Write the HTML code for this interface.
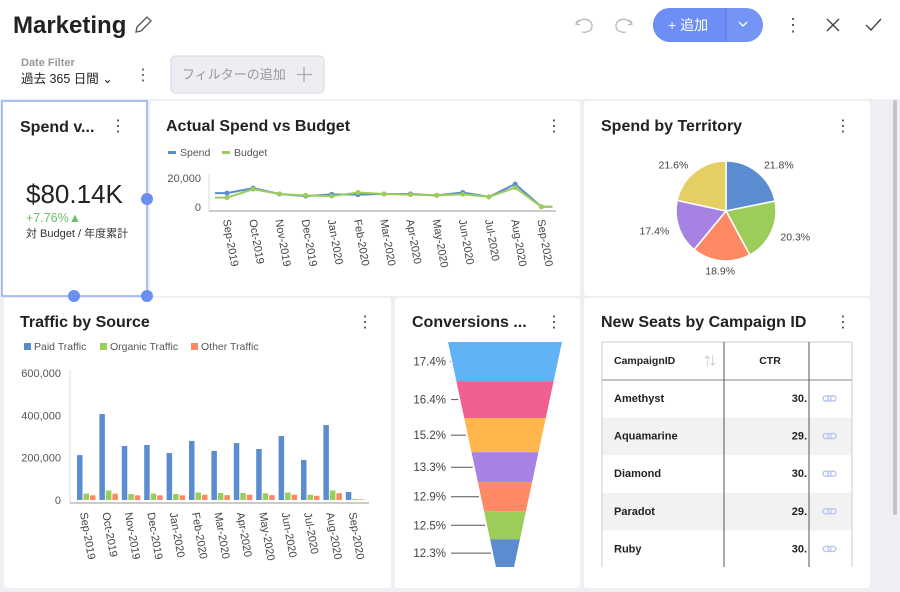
<!DOCTYPE html>
<html><head><meta charset="utf-8">
<style>
html,body{margin:0;padding:0;width:900px;height:592px;overflow:hidden;background:#eeeef3}
svg{display:block;font-family:"Liberation Sans","Noto Sans CJK JP",sans-serif}
</style></head>
<body>
<svg id="s" width="900" height="592" viewBox="0 0 900 592">
  <rect x="0" y="0" width="900" height="99" fill="#fff"/>
  <text x="13" y="33" font-size="24" font-weight="bold" fill="#222">Marketing</text>
  <g stroke="#555" stroke-width="1.3" fill="none"><path d="M136 32 L137 27 L147 17 L151 21 L141 31 Z"/></g>
  <g stroke="#bbb" stroke-width="1.4" fill="none"><path d="M578 20 L576 24 L580 25 M576 24 C580 17 592 18 592 26 C592 31 586 33 582 32"/></g>
  <g stroke="#bbb" stroke-width="1.4" fill="none"><path d="M630 20 L632 24 L628 25 M632 24 C628 17 616 18 616 26 C616 31 622 33 626 32"/></g>
  <g>
    <rect x="653" y="8" width="110" height="34" rx="17" fill="#7595f6"/>
    <path d="M726 8 H670 A17 17 0 0 0 670 42 H726 Z" fill="#6c8ef5"/>
    <line x1="726" y1="8" x2="726" y2="42" stroke="#5a78d8" stroke-width="1"/>
    <text x="668" y="30" font-size="14" fill="#fff">+ 追加</text>
    <path d="M739 22 L743 26 L747 22" stroke="#fff" stroke-width="1.3" fill="none"/>
  </g>
  <text x="793" y="31" font-size="18" fill="#555" text-anchor="middle">⋮</text>
  <g stroke="#444" stroke-width="1.4"><line x1="827" y1="19" x2="839" y2="31"/><line x1="839" y1="19" x2="827" y2="31"/></g>
  <g stroke="#444" stroke-width="1.4" fill="none"><path d="M866 25 L871 30 L881 19"/></g>
  <text x="21" y="66" font-size="11" font-weight="bold" fill="#999">Date Filter</text>
  <text x="21" y="83" font-size="12.5" fill="#222">過去 365 日間 ⌄</text>
  <text x="143" y="80" font-size="16" fill="#555" text-anchor="middle">⋮</text>
  <g>
    <rect x="171" y="56" width="153" height="37" rx="4" fill="#eceef3" stroke="#d8dae0"/>
    <text x="182" y="79" font-size="13" fill="#999">フィルターの追加</text>
    <path d="M304 67 V82 M297 74.5 H312" stroke="#aaa" stroke-width="1.3"/>
  </g>
  <rect x="893" y="100" width="4" height="415" rx="2" fill="#c4c4c8"/>

  <rect x="2" y="101" width="145" height="195" fill="#fff" stroke="#7b98f0" stroke-width="1.2"/>
  <rect x="150" y="101" width="430" height="195" rx="3" fill="#fff"/>
  <rect x="584" y="101" width="286" height="195" rx="3" fill="#fff"/>
  <rect x="4" y="298" width="387" height="290" rx="3" fill="#fff"/>
  <rect x="395" y="298" width="185" height="290" rx="3" fill="#fff"/>
  <rect x="584" y="298" width="286" height="290" rx="3" fill="#fff"/>

  <text x="20" y="132" font-size="16" font-weight="bold" fill="#222">Spend v...</text>
  <text x="118" y="131" font-size="16" fill="#444" text-anchor="middle">⋮</text>
  <text x="26" y="203" font-size="26" fill="#222">$80.14K</text>
  <text x="26" y="222" font-size="12.5" fill="#6cbf6c">+7.76%▲</text>
  <text x="26" y="237" font-size="11" fill="#333">対 Budget / 年度累計</text>
  <circle cx="147" cy="199" r="6" fill="#6b8ff0"/>
  <circle cx="74" cy="296" r="6" fill="#6b8ff0"/>
  <circle cx="147" cy="296" r="6" fill="#6b8ff0"/>

  <text x="166" y="131" font-size="16" font-weight="bold" fill="#222">Actual Spend vs Budget</text>
  <text x="554" y="131" font-size="16" fill="#444" text-anchor="middle">⋮</text>
  <text x="601" y="131" font-size="16" font-weight="bold" fill="#222">Spend by Territory</text>
  <text x="843" y="131" font-size="16" fill="#444" text-anchor="middle">⋮</text>
  <text x="20" y="327" font-size="16" font-weight="bold" fill="#222">Traffic by Source</text>
  <text x="365" y="327" font-size="16" fill="#444" text-anchor="middle">⋮</text>
  <text x="412" y="327" font-size="16" font-weight="bold" fill="#222">Conversions ...</text>
  <text x="554" y="327" font-size="16" fill="#444" text-anchor="middle">⋮</text>
  <text x="601" y="327" font-size="16" font-weight="bold" fill="#222">New Seats by Campaign ID</text>
  <text x="843" y="327" font-size="16" fill="#444" text-anchor="middle">⋮</text>

  <g font-size="10.5" fill="#555">
    <rect x="168" y="151" width="8" height="3" fill="#5b8ccf"/>
    <text x="180" y="156">Spend</text>
    <rect x="222" y="151" width="8" height="3" fill="#9ccc5a"/>
    <text x="234" y="156">Budget</text>
    <rect x="24" y="343" width="7" height="7" fill="#5b8ccf"/>
    <text x="34" y="350">Paid Traffic</text>
    <rect x="100" y="343" width="7" height="7" fill="#9ccc5a"/>
    <text x="110" y="350">Organic Traffic</text>
    <rect x="191" y="343" width="7" height="7" fill="#fe8a65"/>
    <text x="201" y="350">Other Traffic</text>
  </g>
  <g id="charts"></g>
</svg>
<script>
const months=["Sep-2019","Oct-2019","Nov-2019","Dec-2019","Jan-2020","Feb-2020","Mar-2020","Apr-2020","May-2020","Jun-2020","Jul-2020","Aug-2020","Sep-2020"];
const spend=[9600,13000,9000,7500,8700,8500,9000,9000,8000,10000,7000,15800,200];
const budget=[6500,12300,9000,8000,7500,10000,9000,8500,8000,8800,7000,13400,200];
const lineTicks=[0,20000];
const lineTickLabels=["0","20,000"];
const paid=[212000,406000,255000,260000,222000,279000,232000,269000,241000,302000,189000,354000,38000];
const organic=[30000,45000,28000,30000,28000,35000,33000,33000,32000,35000,25000,45000,5000];
const other=[22000,30000,22000,22000,22000,25000,23000,25000,23000,25000,20000,32000,3000];
const barTicks=[0,200000,400000,600000];
const barTickLabels=["0","200,000","400,000","600,000"];
const pieValues=[21.8,20.3,18.9,17.4,21.6];
const pieLabels=["21.8%","20.3%","18.9%","17.4%","21.6%"];
const funnelValues=[17.4,16.4,15.2,13.3,12.9,12.5,12.3];
const funnelLabels=["17.4%","16.4%","15.2%","13.3%","12.9%","12.5%","12.3%"];
const campaigns=["Amethyst","Aquamarine","Diamond","Paradot","Ruby"];
const ctr=["30.","29.","30.","29.","30."];

const NS="http://www.w3.org/2000/svg";
const root=document.getElementById('charts');
function mk(tag,attrs,parent){const e=document.createElementNS(NS,tag);for(const k in attrs)e.setAttribute(k,attrs[k]);(parent||root).appendChild(e);return e;}
function txt(x,y,s,size,fill,anchor,parent){const t=mk('text',{x:x,y:y,'font-size':size,fill:fill||'#555','text-anchor':anchor||'start'},parent);t.textContent=s;return t;}

(function(){
  const g=mk('g',{});
  
  
  const x=i=>227+i*26.2, y=v=>207-v/20000*29;
  mk('line',{x1:209,y1:211,x2:556,y2:211,stroke:'#999'},g);
  mk('line',{x1:209,y1:174,x2:209,y2:211,stroke:'#ddd'},g);
  lineTicks.forEach((t,i)=>{const e=txt(201,y(t)+4,lineTickLabels[i],11,'#555','end',g);
    
    });
  [[spend,'#5b8ccf','spend'],[budget,'#9ccc5a','budget']].forEach(([d,c,n])=>{
    const p=mk('polyline',{points:(x(0)-12)+','+y(d[0])+' '+d.map((v,i)=>x(i)+','+y(v)).join(' ')+' '+(x(12)+11)+','+y(d[12]),fill:'none',stroke:c,'stroke-width':2},g);
    
    
    d.forEach((v,i)=>{const c2=mk('circle',{cx:x(i),cy:y(v),r:2.5,fill:c},g);
      
      });
  });
  months.forEach((m,i)=>{const t=txt(0,0,m,11,'#444','start',g);
    t.setAttribute('transform','translate('+(x(i)-4)+',220) rotate(80)');
    
    });
})();

(function(){
  const g=mk('g',{});
  
  
  const y=v=>500-v/600000*127, gx=i=>77+i*22.4;
  mk('line',{x1:70,y1:370,x2:70,y2:503,stroke:'#ddd'},g);
  mk('line',{x1:70,y1:503,x2:369,y2:503,stroke:'#999'},g);
  barTicks.forEach((t,i)=>{const e=txt(61,y(t)+4,barTickLabels[i],11,'#555','end',g);
    
    });
  [[paid,'#5b8ccf','paid'],[organic,'#9ccc5a','organic'],[other,'#fe8a65','other']].forEach(([d,c,n],s)=>{
    d.forEach((v,i)=>{const r=mk('rect',{x:gx(i)+s*6.5,y:y(v),width:5.5,height:500-y(v),fill:c},g);
      
      });
  });
  months.forEach((m,i)=>{const t=txt(0,0,m,11,'#444','start',g);
    t.setAttribute('transform','translate('+(gx(i)+3)+',513) rotate(80)');
    
    });
})();

(function(){
  const g=mk('g',{});
  
  
  const cx=726,cy=211,r=50,cols=['#5b8ccf','#9ccc5a','#fe8a65','#a683e2','#e5cf62'];
  const tot=pieValues.reduce((a,b)=>a+b,0);let a=-Math.PI/2;
  pieValues.forEach((v,i)=>{const a2=a+v/tot*2*Math.PI;
    const p=mk('path',{d:`M${cx},${cy} L${cx+r*Math.cos(a)},${cy+r*Math.sin(a)} A${r},${r} 0 ${a2-a>Math.PI?1:0} 1 ${cx+r*Math.cos(a2)},${cy+r*Math.sin(a2)} Z`,fill:cols[i],stroke:'#fff','stroke-width':1.5},g);
    
    
    const m=(a+a2)/2,lx=cx+(r+10)*Math.cos(m),ly=cy+(r+10)*Math.sin(m)+4;
    const t=txt(lx,ly,pieLabels[i],10.5,'#444',Math.cos(m)>0.2?'start':(Math.cos(m)<-0.2?'end':'middle'),g);
    
    
    a=a2;});
})();

(function(){
  const g=mk('g',{});
  
  
  const top=342,bot=567,H=bot-top,cols=['#62b3f5','#f0608e','#ffb64d','#a683e2','#fe8a65','#9ccc5a','#5b8ccf'];
  const tot=funnelValues.reduce((a,b)=>a+b,0);
  const hw=yy=>57-(yy-top)/H*48, cx=505;
  let y0=top;
  funnelValues.forEach((v,i)=>{const y1=y0+v/tot*H;
    const p=mk('polygon',{points:`${cx-hw(y0)},${y0} ${cx+hw(y0)},${y0} ${cx+hw(y1)},${y1} ${cx-hw(y1)},${y1}`,fill:cols[i]},g);
    
    
    const ym=(y0+y1)/2;
    mk('line',{x1:451,y1:ym,x2:cx-hw(ym)-2,y2:ym,stroke:'#555'},g);
    const t=txt(446,ym+4,funnelLabels[i],11.5,'#444','end',g);
    
    
    y0=y1;});
})();

(function(){
  const g=mk('g',{});
  
  
  const rh=37.6, y0=380;
  campaigns.forEach((c,i)=>{const yy=y0+i*rh;
    if(i%2===1){mk('rect',{x:602,y:yy,width:250,height:rh,fill:'#f2f2f2'},g);}
    const t=txt(614,yy+22,c,11,'#222','start',g);t.setAttribute('font-weight','bold');
    
    
    const v=txt(807,yy+22,ctr[i],11,'#222','end',g);v.setAttribute('font-weight','bold');
    
    
    const l=mk('g',{stroke:'#b8c6f0','stroke-width':1.4,fill:'none'},g);
    
    
    mk('rect',{x:823,y:yy+16,width:8,height:5,rx:2.5},l);mk('rect',{x:828,y:yy+16,width:8,height:5,rx:2.5},l);
  });
  mk('line',{x1:602,y1:342,x2:852,y2:342,stroke:'#ccc'},g);
  mk('line',{x1:602,y1:380,x2:852,y2:380,stroke:'#888'},g);
  [602,852].forEach(xx=>mk('line',{x1:xx,y1:342,x2:xx,y2:567,stroke:'#ccc'},g));
  [724,809].forEach(xx=>mk('line',{x1:xx,y1:342,x2:xx,y2:567,stroke:'#555'},g));
  const h1=txt(614,364,'CampaignID',10.5,'#222','start',g);h1.setAttribute('font-weight','bold');
  
  
  const h2=txt(770,364,'CTR',10.5,'#222','middle',g);h2.setAttribute('font-weight','bold');
  
  
  const so=txt(710,365,'⇅',12,'#ccc','middle',g);
  
  
})();
</script>
</body></html>
